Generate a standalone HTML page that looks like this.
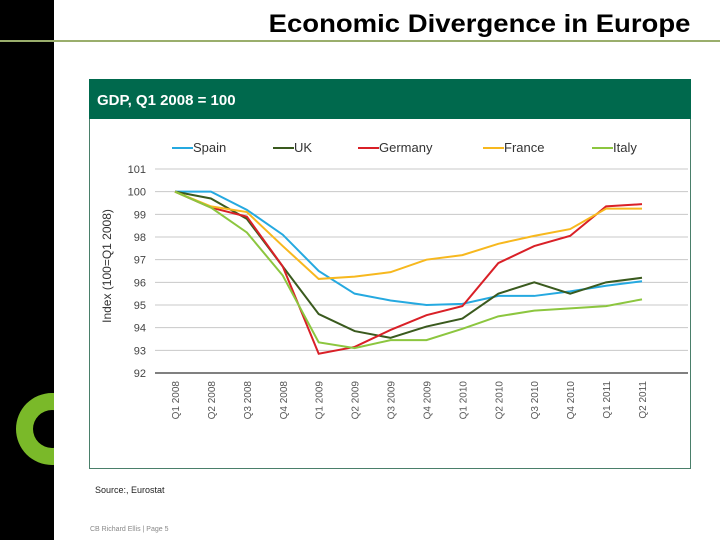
<!DOCTYPE html>
<html><head><meta charset="utf-8"><style>
body{margin:0;width:720px;height:540px;background:#fff;position:relative;overflow:hidden;font-family:"Liberation Sans",sans-serif}
</style></head><body>
<div style="position:absolute;left:0;top:0;width:54px;height:540px;background:#000"></div>
<div style="position:absolute;left:0;top:40px;width:720px;height:2px;background:#9aae6c"></div>
<div style="position:absolute;right:30px;top:10px;font-size:25px;font-weight:bold;color:#000;transform:scaleX(1.1);transform-origin:right top;white-space:nowrap">Economic Divergence in Europe</div>
<div style="position:absolute;left:89px;top:79px;width:602px;height:40px;background:#00694d;color:#fff;font-size:15px;font-weight:bold;box-sizing:border-box;padding:13px 0 0 8px">GDP, Q1 2008 = 100</div>
<div style="position:absolute;left:89px;top:119px;width:602px;height:350px;border:1px solid #4a7f6a;border-top:none;box-sizing:border-box"></div>
<svg style="position:absolute;left:0;top:0" width="54" height="540">
<path fill-rule="evenodd" fill="#7ab929" d="M52 393 A36 36 0 1 0 52 465 A36 36 0 1 0 52 393 Z M52 410 A19 19 0 1 0 52 448 A19 19 0 1 0 52 410 Z"/>
</svg>
<svg id="chart" style="position:absolute;left:0;top:0" width="720" height="540"></svg>
<div style="position:absolute;left:95px;top:485px;font-size:9px;color:#222">Source:, Eurostat</div>
<div style="position:absolute;left:90px;top:526px;font-size:7px;color:#888">CB Richard Ellis | Page 5</div>
<script>
const categories=["Q1 2008","Q2 2008","Q3 2008","Q4 2008","Q1 2009","Q2 2009","Q3 2009","Q4 2009","Q1 2010","Q2 2010","Q3 2010","Q4 2010","Q1 2011","Q2 2011"];
const yTicks=[92,93,94,95,96,97,98,99,100,101];
const seriesNames=["Spain","UK","Germany","France","Italy"];
const seriesColors=["#25a9e0","#3a5a1e","#d92027","#f7b81e","#8cc63f"];
const spain=[100,100,99.2,98.1,96.5,95.5,95.2,95.0,95.05,95.4,95.4,95.6,95.85,96.05];
const uk=[100,99.7,98.8,96.7,94.6,93.85,93.55,94.05,94.4,95.5,96.0,95.5,96.0,96.2];
const germany=[100,99.3,98.9,96.7,92.85,93.15,93.9,94.55,94.95,96.85,97.6,98.05,99.35,99.45];
const france=[100,99.35,99.1,97.6,96.15,96.25,96.45,97.0,97.2,97.7,98.05,98.35,99.25,99.25];
const italy=[100,99.3,98.2,96.3,93.35,93.1,93.45,93.45,93.95,94.5,94.75,94.85,94.95,95.25];
const seriesData=[spain,uk,germany,france,italy];
const svg=document.getElementById('chart');const NS='http://www.w3.org/2000/svg';
const x0=175,x1=642,yTop=169,yBot=373,yMin=92,yMax=101;
const xs=i=>x0+i*(x1-x0)/(categories.length-1);
const ys=v=>yBot-(v-yMin)*(yBot-yTop)/(yMax-yMin);
function mk(t,a){const e=document.createElementNS(NS,t);for(const k in a)e.setAttribute(k,a[k]);svg.appendChild(e);return e;}
yTicks.forEach(v=>{
 const g=mk('line',{x1:155,x2:688,y1:ys(v),y2:ys(v),stroke:v===yMin?'#000':'#c8c8c8','stroke-width':1});
 
 
 const t=mk('text',{x:146,y:ys(v)+4,'text-anchor':'end','font-size':11,fill:'#444'});
 t.textContent=v;
 
 
});
categories.forEach((c,i)=>{
 const t=mk('text',{x:0,y:0,'text-anchor':'end','font-size':10,fill:'#555',transform:`translate(${xs(i)+4},381) rotate(-90)`});
 t.textContent=c;
 
 
});
const yt=mk('text',{x:0,y:0,'text-anchor':'middle','font-size':12,fill:'#333',transform:'translate(111,266) rotate(-90)'});
yt.textContent='Index (100=Q1 2008)';


seriesData.forEach((d,s)=>{
 const p=mk('polyline',{points:d.map((v,i)=>xs(i)+','+ys(v)).join(' '),fill:'none',stroke:seriesColors[s],'stroke-width':2});
 
 
});
const legX=[172,273,358,483,592];
seriesNames.forEach((n,s)=>{
 const l=mk('line',{x1:legX[s],x2:legX[s]+21,y1:148,y2:148,stroke:seriesColors[s],'stroke-width':2});
 
 
 const t=mk('text',{x:legX[s]+21,y:152,'font-size':13,fill:'#333'});
 t.textContent=n;
 
 
});
</script>
</body></html>
